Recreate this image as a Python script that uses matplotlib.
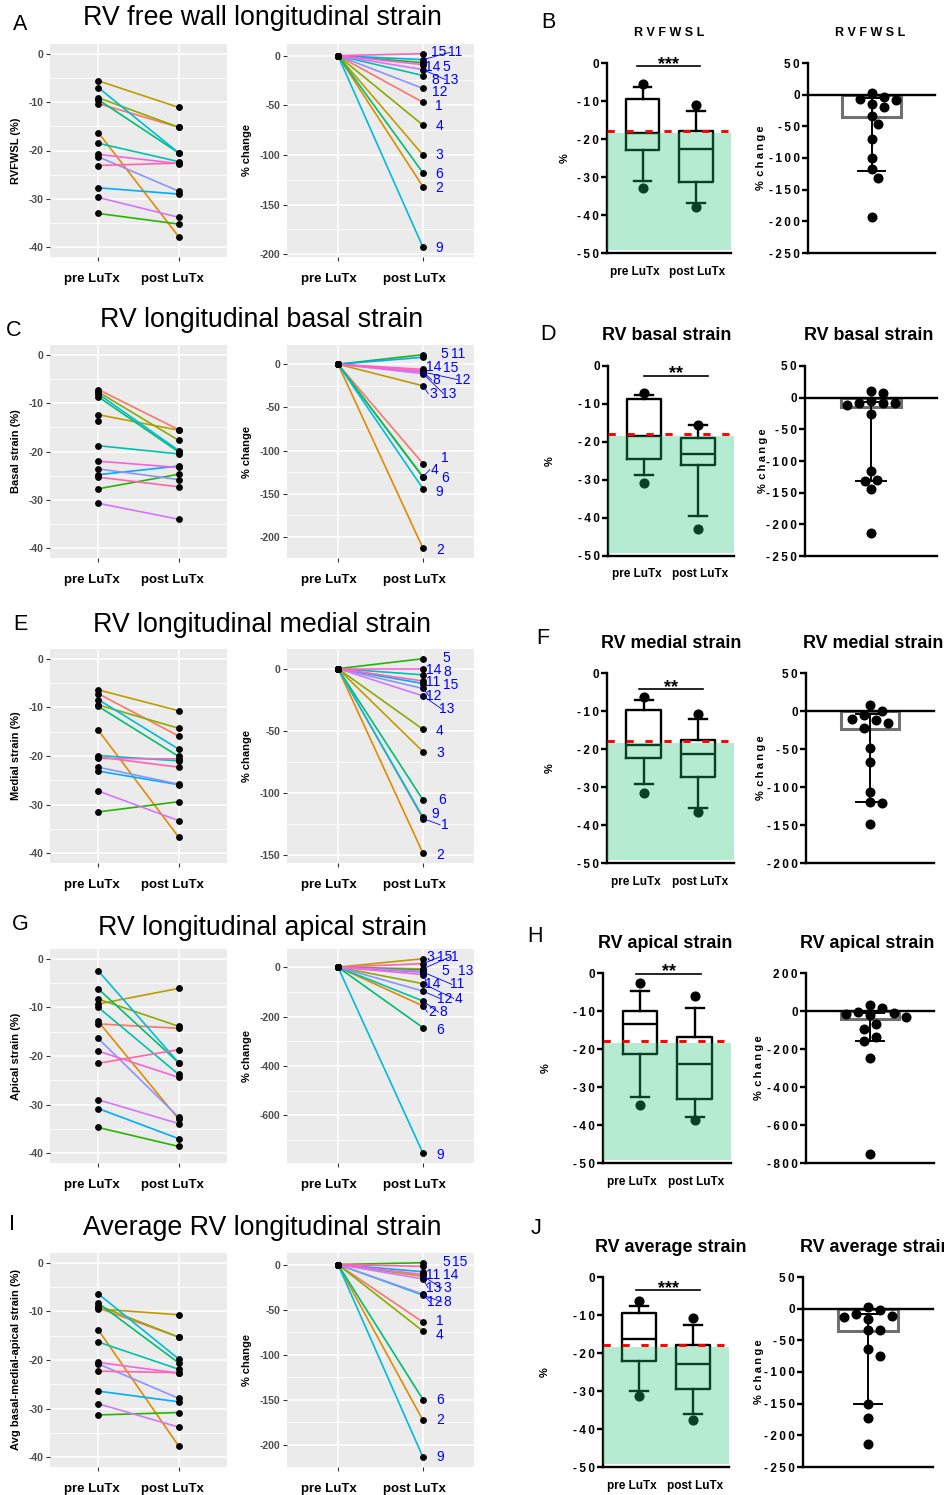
import numpy as np
import matplotlib
matplotlib.use('Agg')
import matplotlib.pyplot as plt
from matplotlib.patches import Rectangle
from matplotlib.ticker import FixedLocator
from matplotlib.transforms import ScaledTranslation

plt.rcParams['font.family'] = ['Liberation Sans', 'DejaVu Sans']
plt.rcParams['axes.unicode_minus'] = False

# ---------------- data ----------------
patients = ['1', '2', '3', '4', '5', '6', '8', '9', '11', '12', '13', '14', '15']
groups = ['pre LuTx', 'post LuTx']

# free wall
fwsl_pre = [-10.3, -16.3, -5.6, -9.1, -33.0, -9.5, -18.5, -7.0, -27.7, -21.3, -29.7, -20.8, -23.1]
fwsl_post = [-15.2, -37.8, -11.1, -15.2, -35.2, -20.5, -22.3, -20.5, -29.0, -28.4, -33.8, -22.7, -22.6]
fwsl_pct = [-47, -132, -100, -70, -7, -118, -20, -193, -4, -33, -14, -9, 2]
# basal
basal_pre = [-7.2, -13.7, -12.4, -7.7, -27.7, -8.7, -18.8, -8.1, -24.8, -23.6, -30.7, -22.0, -25.3]
basal_post = [-15.5, -43.0, -15.6, -17.7, -24.7, -20.1, -20.5, -19.8, -23.0, -25.8, -34.0, -23.3, -27.3]
basal_pct = [-115, -213, -25, -130, 11, -131, -9, -144, 8, -9, -11, -6, -8]
# medial
medial_pre = [-7.2, -14.7, -6.4, -9.5, -31.5, -9.8, -19.9, -8.4, -23.1, -22.3, -27.2, -20.5, -20.2]
medial_post = [-15.9, -36.7, -10.7, -14.3, -29.4, -20.1, -21.0, -18.6, -25.9, -25.8, -33.3, -20.6, -22.3]
medial_pct = [-121, -149, -67, -49, 8, -106, -5, -120, -12, -16, -22, 0, -10]
# apical
apical_pre = [-13.4, -12.9, -9.3, -8.3, -34.7, -6.2, -10.0, -2.5, -30.8, -16.4, -29.0, -19.0, -21.5]
apical_post = [-14.3, -33.0, -6.1, -13.9, -38.6, -21.4, -23.8, -21.4, -37.0, -32.6, -33.9, -24.4, -18.7]
apical_pct = [-7, -157, 34, -67, -11, -245, -137, -753, -20, -97, -17, -30, 14]
# average
avg_pre = [-9.3, -13.8, -9.5, -8.8, -31.3, -8.3, -16.3, -6.4, -26.4, -20.8, -29.0, -20.5, -22.3]
avg_post = [-15.3, -37.7, -10.7, -15.3, -30.8, -20.6, -21.9, -19.8, -28.6, -27.9, -33.8, -22.7, -22.6]
avg_pct = [-64, -173, -13, -74, 2, -150, -34, -214, -8, -33, -16, -11, -2]

# box plots: whislo, q1, median, q3, whishi
fwsl_box_pre = [-31.0, -22.8, -18.4, -9.6, -6.3]
fwsl_box_post = [-36.8, -31.2, -22.7, -18.0, -12.6]
basal_box_pre = [-28.8, -24.6, -18.5, -8.8, -7.6]
basal_box_post = [-39.5, -26.1, -23.1, -18.9, -15.5]
medial_box_pre = [-29.2, -22.3, -19.0, -9.8, -7.0]
medial_box_post = [-35.6, -27.4, -21.3, -17.7, -12.2]
apical_box_pre = [-32.5, -21.4, -13.5, -9.9, -4.8]
apical_box_post = [-37.9, -33.2, -24.0, -16.9, -9.3]
avg_box_pre = [-29.9, -22.0, -16.2, -9.6, -7.5]
avg_box_post = [-36.1, -29.5, -22.8, -18.0, -12.5]

# % change bar (median) and error bar
change_median = [-35, -14.5, -24, -40, -36]
change_err_lo = [-120, -131, -120, -158, -150]
change_err_hi = [-5, -7, -4, -10, -9]

sig_text = ['***', '**', '**', '**', '***']
normal_cut = -18.0

# ---------------- text positions of the repelled labels ----------------
fwsl_lab_x = [2.19, 2.19, 2.19, 2.19, 2.28, 2.19, 2.15, 2.19, 2.375, 2.2, 2.32, 2.11, 2.19]
fwsl_lab_y = [-51, -133, -100, -71, -11, -119, -24, -194, 3.3, -37, -24, -11, 3.3]
basal_lab_x = [2.26, 2.2, 2.12, 2.14, 2.25, 2.26, 2.16, 2.19, 2.41, 2.47, 2.3, 2.12, 2.32]
basal_lab_y = [-109, -215, -34, -122, 12, -132, -18, -148, 12, -18, -34, -3, -4]
medial_lab_x = [2.26, 2.2, 2.2, 2.2, 2.28, 2.22, 2.28, 2.14, 2.12, 2.13, 2.28, 2.12, 2.33]
medial_lab_y = [-126, -150, -67.7, -50, 8.6, -106, -2.4, -117, -11, -22, -32.6, -0.8, -13]
apical_lab_x = [2.38, 2.11, 2.08, 2.42, 2.26, 2.2, 2.24, 2.2, 2.4, 2.26, 2.5, 2.11, 2.26]
apical_lab_y = [42, -182, 42, -127, -16, -253, -182, -760, -70, -127, -16, -70, 42]
avg_lab_x = [2.2, 2.2, 2.28, 2.2, 2.27, 2.2, 2.28, 2.2, 2.12, 2.14, 2.12, 2.32, 2.43]
avg_lab_y = [-63, -173, -26, -78.5, 3.3, -150, -41.5, -214, -11.5, -41.5, -26, -11.5, 3.3]

# ggplot hue palette for 13 levels
pal = ["#F8766D", "#E18A00", "#BE9C00", "#8CAB00", "#24B700", "#00BE70", "#00C1AB",
       "#00BBDA", "#00ACFC", "#8B93FF", "#D575FE", "#F962DD", "#FF65AC"]
MINT = '#1DC474'
TS = '\u2009'   # letter spacing used in the Prism panels

W, H = 944, 1495
fig = plt.figure(figsize=(W / 100, H / 100), dpi=100)


def ax_px(x0, y0, x1, y1):
    return fig.add_axes([x0 / W, 1 - y1 / H, (x1 - x0) / W, (y1 - y0) / H])


def spaced(s):
    return TS.join(s)


def shift_xlabels(ax, px):
    off = ScaledTranslation(px / 100, 0, fig.dpi_scale_trans)
    for lbl in ax.get_xticklabels():
        lbl.set_transform(lbl.get_transform() + off)


def gg_style(ax, ylim, major, minor, ylabel, lx, xshift):
    ax.set_facecolor('#EBEBEB')
    for s in ax.spines.values():
        s.set_visible(False)
    ax.set_xlim(0.4, 2.6)
    ax.set_ylim(*ylim)
    ax.set_xticks([1, 2])
    ax.set_xticklabels(groups, fontsize=9.5, fontweight='bold', color='black')
    ax.yaxis.set_major_locator(FixedLocator(major))
    ax.yaxis.set_minor_locator(FixedLocator(minor))
    ax.set_yticklabels(['%d' % v for v in major], fontsize=7.5, fontweight='bold', color='#4D4D4D')
    ax.grid(True, which='major', color='white', lw=1.1)
    ax.grid(True, which='minor', axis='y', color='white', lw=0.55)
    ax.set_axisbelow(True)
    ax.tick_params(which='major', length=2.7, width=0.8, color='#333333')
    ax.tick_params(which='minor', length=0)
    ax.tick_params(axis='x', pad=9)
    ax.tick_params(axis='y', pad=2)
    shift_xlabels(ax, xshift)
    ax.set_ylabel(ylabel, fontsize=8, fontweight='bold')
    ax.yaxis.set_label_coords(lx, 0.5)


def strain_panel(rect, pre, post, ylabel):
    ax = ax_px(*rect)
    lo, hi = -40, 0
    gg_style(ax, (-42, 2), [0, -10, -20, -30, -40], [-5, -15, -25, -35], ylabel, -0.165, -6)
    for a, b, c in zip(pre, post, pal):
        if lo <= a <= hi and lo <= b <= hi:
            ax.plot([1, 2], [a, b], color=c, lw=1.2, zorder=2)
    for x, vals in ((1, pre), (2, post)):
        v = [t for t in vals if lo <= t <= hi]
        ax.plot([x] * len(v), v, 'o', color='black', ms=3.9, zorder=3)
    return ax


def pct_panel(rect, pct, lab_x, lab_y, step):
    ax = ax_px(*rect)
    lo, hi = min(pct + [0]), max(pct + [0])
    pad = 0.05 * (hi - lo)
    lo, hi = lo - pad, hi + pad
    major = np.arange(np.ceil(lo / step) * step, hi + 1e-9, step)
    minor = [m for m in np.append(major - step / 2, major[-1] + step / 2) if lo < m < hi]
    gg_style(ax, (lo, hi), major, minor, '% change', -0.185, -9)
    for v, c in zip(pct, pal):
        ax.plot([1, 2], [0, v], color=c, lw=1.2, zorder=2)
    ax.plot([1] * len(pct), [0] * len(pct), 'o', color='black', ms=3.9, zorder=3)
    ax.plot([2] * len(pct), pct, 'o', color='black', ms=3.9, zorder=3)
    tr = ax.transData
    for p, v, x, y in zip(patients, pct, lab_x, lab_y):
        pp = tr.transform((2, v))
        pl = tr.transform((x, y))
        if abs(pl[1] - pp[1]) > 6:
            end = tr.inverted().transform((pl[0] - 5, pl[1]))
            ax.plot([2, end[0]], [v, end[1]], color='blue', lw=0.6, zorder=4)
        ax.text(x, y, p, color='blue', fontsize=10, ha='center', va='center', zorder=5)
    return ax


def prism_axes(ax, ticks):
    for s in ('top', 'right'):
        ax.spines[s].set_visible(False)
    for s in ('left', 'bottom'):
        ax.spines[s].set_linewidth(1.7)
    ax.set_yticks(ticks)
    ax.set_yticklabels([spaced('%d' % t) for t in ticks], fontsize=8.5, fontweight='bold')
    ax.tick_params(axis='y', length=4, width=1.7, pad=2)


def box_panel(rect, bpre, bpost, pre, post, sig, sig_y, sx0, sx1, lab_x):
    ax = ax_px(*rect)
    xl = (0.33, 2.66)
    ax.set_xlim(*xl)
    ax.set_ylim(-50, 0)
    stats = []
    for b, d in ((bpre, pre), (bpost, post)):
        stats.append(dict(whislo=b[0], q1=b[1], med=b[2], q3=b[3], whishi=b[4],
                          fliers=[min(d), max(d)]))
    lp = dict(color='black', lw=1.7)
    ax.bxp(stats, positions=[1, 2], widths=0.63, capwidths=0.33,
           boxprops=lp, medianprops=lp, whiskerprops=lp, capprops=lp,
           flierprops=dict(marker='o', mfc='black', mec='black', ms=6.3),
           manage_ticks=False)
    for f in ax.lines:
        f.set_clip_on(False)
    ax.add_patch(Rectangle((xl[0], -49.2), xl[1] - xl[0], 30.7, fc=MINT, alpha=0.33,
                           ec='none', zorder=5))
    ax.plot(xl, [normal_cut, normal_cut], color='red', lw=2.1, ls=(0, (2.5, 4.0)),
            zorder=6, clip_on=False)
    ax.plot([sx0, sx1], [sig_y, sig_y], color='black', lw=1.2, clip_on=False)
    ax.text((sx0 + sx1) / 2, sig_y - 0.7, sig, ha='center', va='baseline',
            fontsize=13, fontweight='bold', clip_on=False)
    prism_axes(ax, [0, -10, -20, -30, -40, -50])
    ax.set_xticks([0.86, 2.03])
    ax.set_xticklabels(groups, fontsize=8.5, fontweight='bold')
    ax.tick_params(axis='x', length=0, pad=9)
    ax.set_ylabel('%', fontsize=8, fontweight='bold')
    ax.yaxis.set_label_coords(lab_x, 0.5)
    return ax


def swarm(ax, vals, d):
    pts = ax.transData.transform(np.column_stack([np.zeros(len(vals)), vals]))
    ypx = pts[:, 1]
    x0 = pts[0, 0]
    off = np.zeros(len(vals))
    done = []
    cands = [0.0]
    for k in range(1, 30):
        cands += [k * d * 0.6, -k * d * 0.6]
    for i in np.argsort(-np.asarray(vals)):
        for c in cands:
            if all((c - off[j]) ** 2 + (ypx[i] - ypx[j]) ** 2 >= d * d for j in done):
                off[i] = c
                break
        done.append(i)
    inv = ax.transData.inverted()
    return inv.transform(np.column_stack([x0 + off, ypx]))[:, 0]


def change_panel(rect, vals, med, elo, ehi, ylim, step, lab_x):
    ax = ax_px(*rect)
    ax.set_xlim(-1, 1)
    ax.set_ylim(*ylim)
    ax.add_patch(Rectangle((-0.46, med), 0.92, -med, fc='white', ec='#707070', lw=2.2, zorder=2))
    ax.plot([-1, 1], [0, 0], color='black', lw=1.7, zorder=3, clip_on=False)
    ax.plot([0, 0], [elo, ehi], color='black', lw=1.4, zorder=3)
    for e in (elo, ehi):
        ax.plot([-0.22, 0.22], [e, e], color='black', lw=1.4, zorder=3)
    xs = swarm(ax, vals, 10)
    ax.plot(xs, vals, 'o', color='black', ms=6.2, zorder=4, clip_on=False)
    prism_axes(ax, np.arange(ylim[1], ylim[0] - 1, -step))
    ax.set_xticks([])
    ax.set_ylabel('%' + TS * 2 + spaced('change'), fontsize=8, fontweight='bold')
    ax.yaxis.set_label_coords(lab_x, 0.5)
    return ax


# ---------------- layout ----------------
big_titles = ['RV free wall longitudinal strain', 'RV longitudinal basal strain',
              'RV longitudinal medial strain', 'RV longitudinal apical strain',
              'Average RV longitudinal strain']
box_titles = ['R V F W S L', 'RV basal strain', 'RV medial strain', 'RV apical strain',
              'RV average strain']
ylabels = ['RVFWSL (%)', 'Basal strain (%)', 'Medial strain (%)', 'Apical strain (%)',
           'Avg basal-medial-apical strain (%)']
pres = [fwsl_pre, basal_pre, medial_pre, apical_pre, avg_pre]
posts = [fwsl_post, basal_post, medial_post, apical_post, avg_post]
pcts = [fwsl_pct, basal_pct, medial_pct, apical_pct, avg_pct]
labxs = [fwsl_lab_x, basal_lab_x, medial_lab_x, apical_lab_x, avg_lab_x]
labys = [fwsl_lab_y, basal_lab_y, medial_lab_y, apical_lab_y, avg_lab_y]
box_pres = [fwsl_box_pre, basal_box_pre, medial_box_pre, apical_box_pre, avg_box_pre]
box_posts = [fwsl_box_post, basal_box_post, medial_box_post, apical_box_post, avg_box_post]
pct_steps = [50, 50, 50, 200, 50]
chg_lims = [(-250, 50), (-250, 50), (-200, 50), (-800, 200), (-250, 50)]
chg_steps = [50, 50, 50, 200, 50]

gg_top = [44, 345, 649, 949, 1253]
gg_bot = [257, 558, 863, 1163, 1467]
box_x0 = [607, 608, 607, 603, 603]
box_x1 = [731, 734, 734, 731, 729]
pr_top = [63, 366, 673, 973, 1277]
pr_bot = [253, 556, 863, 1163, 1467]
chg_x0 = [808, 805, 806, 806, 803]
chg_x1 = [935, 937, 934, 934, 933]
sig_y = [-0.8, -2.5, -4.3, -0.2, -3.5]
sig_x0 = [0.9, 1.0, 0.91, 0.93, 0.94]
sig_x1 = [2.08, 2.17, 2.09, 2.12, 2.13]
pct_lab_x = [-0.30, -0.42, -0.41, -0.41, -0.42]
chg_lab_x = [-0.33, -0.28, -0.31, -0.33, -0.30]

title_y = [18, 320, 625, 928, 1228]
box_title_y = [33, 336, 643, 944, 1248]
box_title_x = [669, 667, 671, 665, 671]
chg_title_x = [870, 869, 873, 867, 876]
left_letters = [('A', 20, 25), ('C', 14, 330), ('E', 20, 625), ('G', 20, 925), ('I', 12, 1225)]
right_letters = [('B', 548, 22), ('D', 548, 334), ('F', 543, 638), ('H', 535, 937), ('J', 536, 1228)]

for r in range(5):
    strain_panel((50, gg_top[r], 227, gg_bot[r]), pres[r], posts[r], ylabels[r])
    pct_panel((287, gg_top[r], 474, gg_bot[r]), pcts[r], labxs[r], labys[r], pct_steps[r])
    box_panel((box_x0[r], pr_top[r], box_x1[r], pr_bot[r]), box_pres[r], box_posts[r],
              pres[r], posts[r], sig_text[r], sig_y[r], sig_x0[r], sig_x1[r], pct_lab_x[r])
    change_panel((chg_x0[r], pr_top[r], chg_x1[r], pr_bot[r]), pcts[r], change_median[r],
                 change_err_lo[r], change_err_hi[r], chg_lims[r], chg_steps[r], chg_lab_x[r])

    fig.text(262 / W, 1 - title_y[r] / H, big_titles[r], fontsize=19.3, ha='center', va='center')
    tsize = 9 if r == 0 else 12.9
    for tx in (box_title_x[r], chg_title_x[r]):
        fig.text(tx / W, 1 - box_title_y[r] / H, box_titles[r], fontsize=tsize,
                 fontweight='bold', ha='center', va='center')
    for (t, x, y) in (left_letters[r], right_letters[r]):
        fig.text(x / W, 1 - y / H, t, fontsize=15.5, ha='center', va='center')

fig.savefig('out.png', dpi=100)
